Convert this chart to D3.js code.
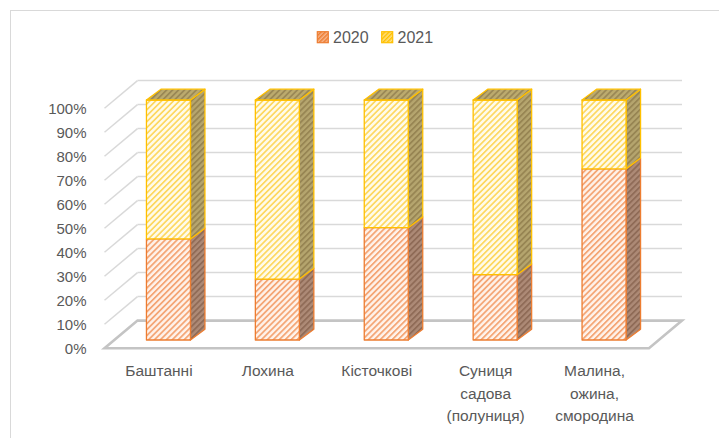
<!DOCTYPE html>
<html><head><meta charset="utf-8">
<script src="https://cdn.jsdelivr.net/npm/d3@7/dist/d3.min.js"></script>
<style>html,body{margin:0;padding:0;background:#fff;}svg{display:block;}</style>
</head><body>
<svg id="c" width="719" height="438"></svg>
<script>
const categories = ["Баштанні","Лохина","Кісточкові","Суниця\nсадова\n(полуниця)","Малина,\nожина,\nсмородина"];
const seriesNames = ["2020","2021"];
const values2020 = [42.1, 25.4, 46.8, 27.2, 71.3];
const values2021 = [57.9, 74.6, 53.2, 72.8, 28.7];
const tickValues = [0,0.1,0.2,0.3,0.4,0.5,0.6,0.7,0.8,0.9,1];

const svg = d3.select("#c");
const font = "'Liberation Sans', Arial, sans-serif";
const textColor = "#595959";

// chart border
svg.append("rect").attr("x",10.5).attr("y",10.5).attr("width",730).attr("height",450)
  .attr("fill","#fff").attr("stroke","#d9d9d9").attr("stroke-width",1);

// patterns
const defs = svg.append("defs");
function pat(id, bg, fg, w, period){
  const p = defs.append("pattern").attr("id",id).attr("patternUnits","userSpaceOnUse")
    .attr("width",period).attr("height",period).attr("patternTransform","rotate(45)");
  p.append("rect").attr("width",period).attr("height",period).attr("fill",bg);
  p.append("rect").attr("x",0).attr("width",w).attr("height",period).attr("fill",fg);
}
pat("f2020","#fff3eb","#f4a676",1.8,4.2);
pat("s2020","#ad8a76","#8f6b57",1.8,4.2);
pat("f2021","#fffbea","#fdd862",1.7,4.2);
pat("s2021","#b5a56e","#978553",1.8,4.2);
pat("t2021","#bcab6e","#9a8856",1.8,4.2);
pat("lg2020","#f8b58c","#ed7d31",1.5,3);
pat("lg2021","#ffe080","#ffc000",1.5,3);

const fills = {"2020":{front:"url(#f2020)",side:"url(#s2020)",top:"url(#s2020)",stroke:"#ED7D31"},
               "2021":{front:"url(#f2021)",side:"url(#s2021)",top:"url(#t2021)",stroke:"#FFC000"}};

// geometry
const floorFrontY = 348.3;
const wallDX = 33, wallDY = 27.7;
const x = d3.scaleBand().domain(categories).range([104.5, 649]).paddingInner(0).paddingOuter(0);
const y = d3.scaleLinear().domain([0,1]).range([floorFrontY, 108.3]);
const barShiftX = 9.5, barShiftY = 8.3, barW = 44, barDX = 14.5, barDY = 10.8;

// back wall + side wall gridlines
const grid = svg.append("g").attr("stroke","#d9d9d9").attr("stroke-width",1.5).attr("fill","none");
tickValues.filter(t=>t>0).forEach(t=>{
  const yb = y(t) - wallDY;
  const xb = x.range()[0] + wallDX;
  grid.append("line").attr("x1",xb).attr("y1",yb).attr("x2",x.range()[1]+wallDX).attr("y2",yb);
  grid.append("line").attr("x1",xb).attr("y1",yb).attr("x2",x.range()[0]).attr("y2",yb+wallDY);
});

// floor
const fx0 = x.range()[0], fx1 = x.range()[1];
svg.append("polygon")
  .attr("points",[[fx0,floorFrontY],[fx1,floorFrontY],[fx1+wallDX,floorFrontY-wallDY],[fx0+wallDX,floorFrontY-wallDY]].map(p=>p.join(",")).join(" "))
  .attr("fill","#fff").attr("stroke","#c4c4c4").attr("stroke-width",2.6).attr("stroke-linejoin","miter");

// y tick labels
svg.append("g").selectAll("text").data(tickValues).join("text")
  .attr("x",86.5).attr("y",d=>y(d)+5.5).attr("text-anchor","end")
  .attr("font-family",font).attr("font-size",15).attr("fill",textColor)
  .text(d=>d3.format(".0%")(d));

// bars
const table = categories.map((c,i)=>({cat:c, "2020":values2020[i], "2021":values2021[i]}));
const stack = d3.stack().keys(seriesNames).offset(d3.stackOffsetExpand)(table);
const bars = svg.append("g");
categories.forEach((c,i)=>{
  const xl = x(c) + x.bandwidth()/2 + barShiftX - barW/2;
  const xr = xl + barW;
  stack.forEach((s,si)=>{
    const [v0,v1] = s[i];
    const yb = y(v0) - barShiftY, yt = y(v1) - barShiftY;
    const f = fills[s.key];
    const g = bars.append("g").attr("stroke",f.stroke).attr("stroke-width",1.3).attr("stroke-linejoin","round");
    g.append("polygon").attr("points",[[xr,yb],[xr+barDX,yb-barDY],[xr+barDX,yt-barDY],[xr,yt]].map(p=>p.join(",")).join(" "))
      .attr("fill",f.side);
    g.append("rect").attr("x",xl).attr("y",yt).attr("width",barW).attr("height",yb-yt).attr("fill",f.front);
    if(si===stack.length-1){
      g.append("polygon").attr("points",[[xl,yt],[xr,yt],[xr+barDX,yt-barDY],[xl+barDX,yt-barDY]].map(p=>p.join(",")).join(" "))
        .attr("fill",f.top);
    }
  });
});

// category labels
const lab = svg.append("g");
categories.forEach(c=>{
  const lines = c.split("\n");
  const t = lab.append("text").attr("text-anchor","middle").attr("font-family",font)
    .attr("font-size",15.5).attr("fill",textColor);
  lines.forEach((ln,k)=>{
    t.append("tspan").attr("x",x(c)+x.bandwidth()/2).attr("y",376+k*22.5).text(ln);
  });
});

// legend
const leg = svg.append("g");
const legItems = [{k:"2020",sx:317.3,tx:333},{k:"2021",sx:381.7,tx:397.5}];
legItems.forEach(it=>{
  leg.append("rect").attr("x",it.sx).attr("y",31.7).attr("width",11).attr("height",11)
    .attr("fill","url(#lg"+it.k+")").attr("stroke",fills[it.k].stroke).attr("stroke-width",1.2);
  leg.append("text").attr("x",it.tx).attr("y",43.3).attr("font-family",font).attr("font-size",16)
    .attr("fill",textColor).text(it.k);
});
</script>
</body></html>
